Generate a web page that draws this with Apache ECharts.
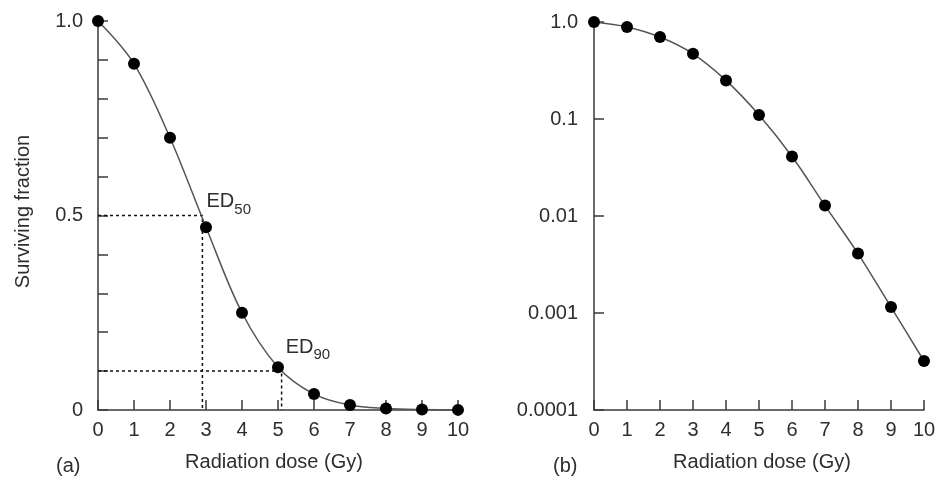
<!DOCTYPE html>
<html>
<head>
<meta charset="utf-8">
<script src="https://cdn.jsdelivr.net/npm/echarts@6/dist/echarts.min.js"></script>
<style>
html,body{margin:0;padding:0;background:#fff;}
#c{width:939px;height:477px;}
</style>
</head>
<body>
<div id="c"></div>
<script>
var doses = [0, 1, 2, 3, 4, 5, 6, 7, 8, 9, 10];
var survival = [1.0, 0.89, 0.70, 0.47, 0.25, 0.11, 0.041, 0.0128, 0.0041, 0.00115, 0.00032];
var linearTickLabels = {'0': '0', '0.5': '0.5', '1': '1.0'};
var logTickLabels = ['1.0', '0.1', '0.01', '0.001', '0.0001'];
var ed50 = {dose: 2.9, level: 0.5, labelAt: [3.0, 0.54], sub: '50'};
var ed90 = {dose: 5.1, level: 0.1, labelAt: [5.2, 0.165], sub: '90'};
var xTitle = 'Radiation dose (Gy)';
var yTitle = 'Surviving fraction';
var panelLetters = ['(a)', '(b)'];

var FONT = 'Liberation Sans';
var FS = 20;
var TXT = '#2e2e2e';
var AX = '#3a3a3a';

var pts = doses.map(function (d, i) { return [d, survival[i]]; });

function xAxisOf(idx, pad) {
  return {
    type: 'value', gridIndex: idx, min: 0, max: 10, interval: 1,
    axisLine: {show: true, lineStyle: {color: AX, width: 1.5}},
    axisTick: {show: true, inside: true, length: 10, lineStyle: {color: AX, width: 1.5}},
    axisLabel: {margin: 10, fontFamily: FONT, fontSize: FS, color: TXT},
    splitLine: {show: false},
    name: xTitle, nameLocation: 'middle', nameGap: 42,
    nameTextStyle: {fontFamily: FONT, fontSize: FS, color: TXT, padding: pad}
  };
}

var option = {
  animation: false,
  backgroundColor: '#fff',
  grid: [
    {left: 98, top: 21, width: 360, height: 390},
    {left: 594, top: 22, width: 330, height: 389}
  ],
  xAxis: [xAxisOf(0, [0, 8, 0, 0]), xAxisOf(1, [0, 0, 0, 6])],
  yAxis: [
    {
      type: 'value', gridIndex: 0, min: 0, max: 1, interval: 0.1,
      axisLine: {show: true, lineStyle: {color: AX, width: 1.5}},
      axisTick: {show: true, inside: true, length: 10, lineStyle: {color: AX, width: 1.5}},
      axisLabel: {
        margin: 15, fontFamily: FONT, fontSize: FS, color: TXT,
        formatter: function (v) {
          var k = String(Math.round(v * 10) / 10);
          return linearTickLabels.hasOwnProperty(k) ? linearTickLabels[k] : '';
        }
      },
      splitLine: {show: false},
      name: yTitle, nameLocation: 'middle', nameGap: 65, nameRotate: 90,
      nameTextStyle: {fontFamily: FONT, fontSize: FS, color: TXT, padding: [0, 0, 0, 8]}
    },
    {
      type: 'log', logBase: 10, gridIndex: 1, min: 0.0001, max: 1,
      axisLine: {show: true, lineStyle: {color: AX, width: 1.5}},
      axisTick: {show: true, inside: true, length: 10, lineStyle: {color: AX, width: 1.5}},
      axisLabel: {
        margin: 16, fontFamily: FONT, fontSize: FS, color: TXT,
        formatter: function (v) {
          var e = Math.round(-Math.log10(v));
          return logTickLabels[e] !== undefined ? logTickLabels[e] : '';
        }
      },
      minorTick: {show: false},
      splitLine: {show: false}
    }
  ],
  series: [
    {
      type: 'line', xAxisIndex: 0, yAxisIndex: 0, data: [[0, ed50.level], [ed50.dose, ed50.level], [ed50.dose, 0]],
      symbol: 'none', lineStyle: {color: '#111', width: 1.5, type: [3, 3]}, z: 1, silent: true
    },
    {
      type: 'line', xAxisIndex: 0, yAxisIndex: 0, data: [[0, ed90.level], [ed90.dose, ed90.level], [ed90.dose, 0]],
      symbol: 'none', lineStyle: {color: '#111', width: 1.5, type: [3, 3]}, z: 1, silent: true
    },
    {
      type: 'line', xAxisIndex: 0, yAxisIndex: 0, data: pts, smooth: 0.35, clip: false,
      symbol: 'circle', symbolSize: 12, showAllSymbol: true,
      itemStyle: {color: '#000'}, lineStyle: {color: '#555', width: 1.5}, z: 3
    },
    {
      type: 'line', xAxisIndex: 1, yAxisIndex: 1, data: pts, smooth: 0.35, clip: false,
      symbol: 'circle', symbolSize: 12, showAllSymbol: true,
      itemStyle: {color: '#000'}, lineStyle: {color: '#555', width: 1.5}, z: 3
    },
    {
      type: 'scatter', xAxisIndex: 0, yAxisIndex: 0, symbolSize: 1,
      itemStyle: {color: 'rgba(0,0,0,0)'}, silent: true, z: 5,
      data: [
        {value: ed50.labelAt, name: ed50.sub},
        {value: ed90.labelAt, name: ed90.sub}
      ],
      label: {
        show: true, position: 'right', distance: 0, color: TXT, opacity: 1,
        formatter: function (p) { return '{m|ED}{s|' + p.name + '}'; },
        rich: {
          m: {fontFamily: FONT, fontSize: FS, color: TXT, opacity: 1, verticalAlign: 'bottom', lineHeight: 24},
          s: {fontFamily: FONT, fontSize: 15, color: TXT, opacity: 1, verticalAlign: 'bottom', lineHeight: 24, padding: [0, 0, -5, 0]}
        }
      }
    }
  ],
  graphic: [
    {type: 'text', left: 56, top: 456, style: {text: panelLetters[0], font: FS + 'px "Liberation Sans"', fill: TXT}},
    {type: 'text', left: 553, top: 456, style: {text: panelLetters[1], font: FS + 'px "Liberation Sans"', fill: TXT}}
  ]
};

var chart = echarts.init(document.getElementById('c'), null, {renderer: 'canvas'});
chart.setOption(option);
</script>
</body>
</html>
